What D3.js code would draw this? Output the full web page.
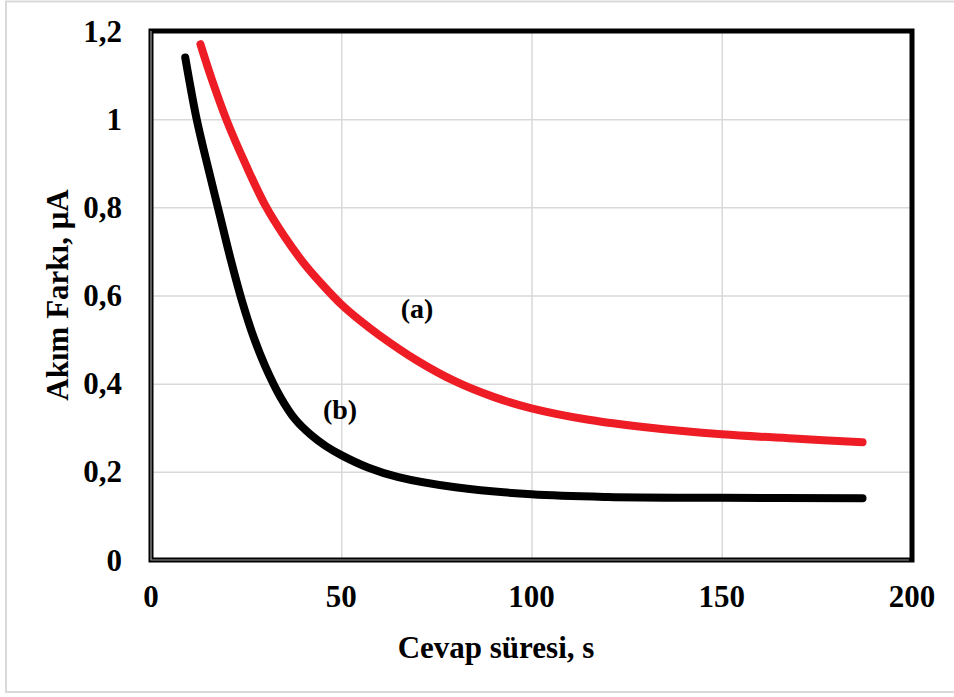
<!DOCTYPE html>
<html>
<head>
<meta charset="utf-8">
<script src="https://cdn.jsdelivr.net/npm/d3@7"></script>
<style>
    html, body { margin: 0; padding: 0; background: #fff; }
    svg { display: block; }
    text { font-family: "Liberation Serif", "Times New Roman", serif; font-weight: bold; fill: #000; }
</style>
</head>
<body>
<svg id="chart" width="954" height="697"></svg>
<script>
// curve (a), red
const seriesAX = [13, 16, 20, 25, 30, 35, 40, 45, 50, 55, 60, 70, 80, 90, 100, 115, 130, 150, 170, 187];
const seriesAY = [1.17, 1.09, 0.995, 0.895, 0.805, 0.735, 0.675, 0.625, 0.58, 0.543, 0.51, 0.452, 0.405, 0.37, 0.344, 0.318, 0.301, 0.285, 0.275, 0.267];

// curve (b), black
const seriesBX = [9, 12, 15, 18, 21, 24, 27, 30, 34, 38, 42, 46, 50, 57, 65, 80, 100, 120, 150, 187];
const seriesBY = [1.14, 1.0, 0.89, 0.785, 0.68, 0.585, 0.505, 0.44, 0.37, 0.318, 0.284, 0.258, 0.238, 0.21, 0.188, 0.165, 0.149, 0.143, 0.141, 0.14];

const xTicks = [0, 50, 100, 150, 200];
const yTicks = [0, 0.2, 0.4, 0.6, 0.8, 1, 1.2];

const xTitle = 'Cevap süresi, s';
const yTitle = 'Akım Farkı, μA';

const plot = { left: 151, right: 912, top: 31, bottom: 560 };

const svg = d3.select('#chart');

// light outer border
svg.append('rect')
    .attr('x', 6)
    .attr('y', 1.5)
    .attr('width', 960)
    .attr('height', 690.5)
    .attr('fill', 'none')
    .attr('stroke', '#d9d9d9')
    .attr('stroke-width', 2);

const x = d3.scaleLinear().domain([0, 200]).range([plot.left, plot.right]);
const y = d3.scaleLinear().domain([0, 1.2]).range([plot.bottom, plot.top]);

// gridlines
svg.append('g')
    .attr('transform', `translate(0, ${plot.bottom})`)
    .call(d3.axisBottom(x).tickValues(xTicks).tickSize(-(plot.bottom - plot.top)).tickFormat(''))
    .call(g => g.select('.domain').remove())
    .call(g => g.selectAll('line').attr('stroke', '#d9d9d9').attr('stroke-width', 1.5));

svg.append('g')
    .attr('transform', `translate(${plot.left}, 0)`)
    .call(d3.axisLeft(y).tickValues(yTicks).tickSize(-(plot.right - plot.left)).tickFormat(''))
    .call(g => g.select('.domain').remove())
    .call(g => g.selectAll('line').attr('stroke', '#d9d9d9').attr('stroke-width', 1.5));

// tick labels, decimal comma
const fmt = v => String(v).replace('.', ',');

svg.append('g')
    .selectAll('text')
    .data(xTicks)
    .join('text')
    .attr('x', d => x(d))
    .attr('y', 607)
    .attr('text-anchor', 'middle')
    .style('font-size', '31px')
    .text(fmt);

svg.append('g')
    .selectAll('text')
    .data(yTicks)
    .join('text')
    .attr('x', 122)
    .attr('y', d => y(d) + 10.5)
    .attr('text-anchor', 'end')
    .style('font-size', '31px')
    .text(fmt);

// axis titles
svg.append('text')
    .attr('x', 496)
    .attr('y', 658)
    .attr('text-anchor', 'middle')
    .style('font-size', '31px')
    .text(xTitle);

svg.append('text')
    .attr('transform', 'translate(68, 295) rotate(-90)')
    .attr('text-anchor', 'middle')
    .style('font-size', '31px')
    .text(yTitle);

// curves
const line = d3.line()
    .x(d => x(d[0]))
    .y(d => y(d[1]))
    .curve(d3.curveCatmullRom.alpha(0.5));

const curves = [
    { pts: d3.zip(seriesAX, seriesAY), color: '#ee1c25' },
    { pts: d3.zip(seriesBX, seriesBY), color: '#000000' }
];

svg.append('g')
    .selectAll('path')
    .data(curves)
    .join('path')
    .attr('d', d => line(d.pts))
    .attr('fill', 'none')
    .attr('stroke', d => d.color)
    .attr('stroke-width', 8)
    .attr('stroke-linecap', 'round')
    .attr('stroke-linejoin', 'round');

// curve labels
svg.append('text')
    .attr('x', 417)
    .attr('y', 318)
    .attr('text-anchor', 'middle')
    .style('font-size', '28px')
    .text('(a)');

svg.append('text')
    .attr('x', 340)
    .attr('y', 419)
    .attr('text-anchor', 'middle')
    .style('font-size', '28px')
    .text('(b)');

// plot frame
svg.append('rect')
    .attr('x', plot.left)
    .attr('y', plot.top)
    .attr('width', plot.right - plot.left)
    .attr('height', plot.bottom - plot.top)
    .attr('fill', 'none')
    .attr('stroke', '#000')
    .attr('stroke-width', 5);

svg.append('path')
    .attr('d', `M${plot.left},${plot.top}V${plot.bottom}H${plot.right - 3}`)
    .attr('fill', 'none')
    .attr('stroke', '#9a9a9a')
    .attr('stroke-width', 1.2);
</script>
</body>
</html>
